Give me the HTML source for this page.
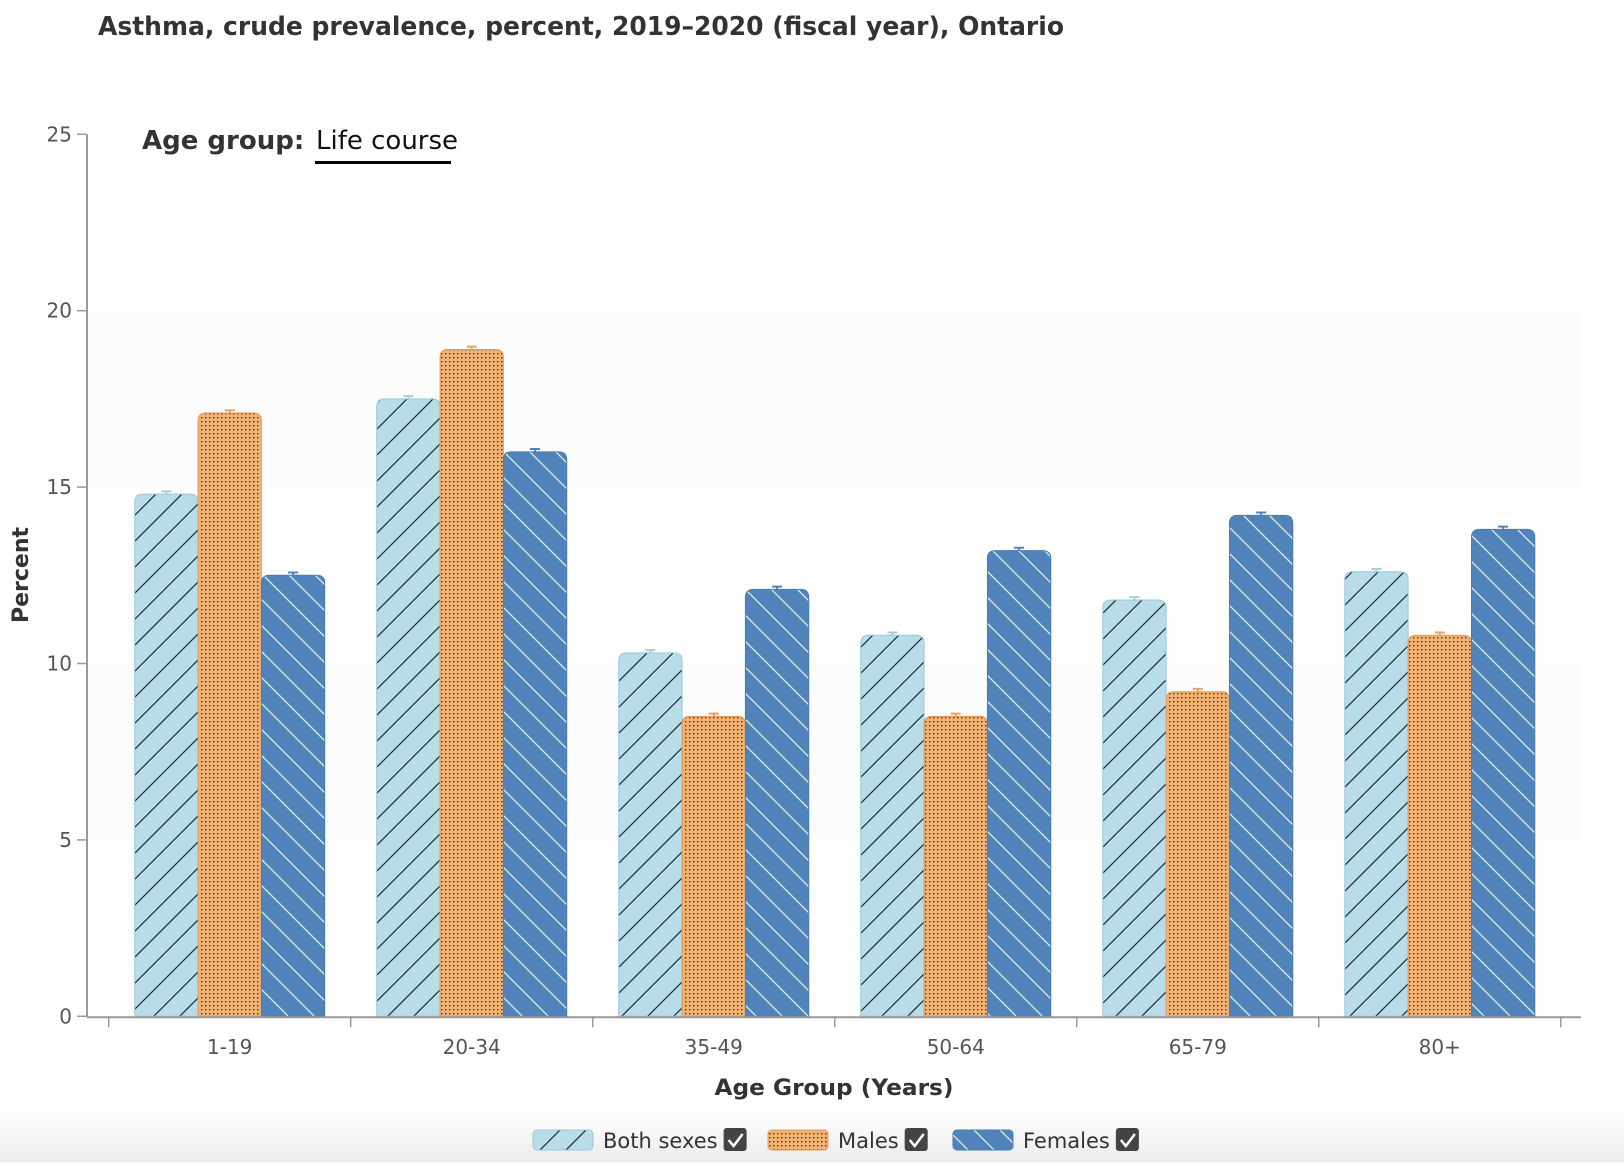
<!DOCTYPE html>
<html><head><meta charset="utf-8">
<style>
body{margin:0;width:1624px;height:1162px;overflow:hidden;background:#fff;font-family:"DejaVu Sans","Liberation Sans",sans-serif;}
svg text{font-family:"DejaVu Sans","Liberation Sans",sans-serif;}
</style></head>
<body>
<svg id="chart" width="1624" height="1162">
<defs>
<linearGradient id="botbg" x1="0" y1="0" x2="0" y2="1"><stop offset="0" stop-color="#fff"/><stop offset="1" stop-color="#ececec"/></linearGradient>
<pattern id="pBoth" patternUnits="userSpaceOnUse" width="26" height="26">
<rect width="26" height="26" fill="#b9dce9"/>
<path d="M0,26 L26,0 M-6,6 L6,-6 M20,32 L32,20" stroke="#1f2a36" stroke-width="1.2"/>
</pattern>
<pattern id="pMale" patternUnits="userSpaceOnUse" width="4" height="4">
<rect width="4" height="4" fill="#f2b272"/>
<rect x="1" y="1" width="1.4" height="1.4" fill="#5a3018"/>
</pattern>
<pattern id="pFem" patternUnits="userSpaceOnUse" width="26" height="26">
<rect width="26" height="26" fill="#5083b9"/>
<path d="M0,0 L26,26 M-6,20 L6,32 M20,-6 L32,6" stroke="#e8f1fa" stroke-width="1.2"/>
</pattern>
</defs>
<rect x="0" y="1110" width="1624" height="52" fill="url(#botbg)"/>
<text x="98" y="35" font-size="26" font-weight="bold" fill="#333" textLength="966" lengthAdjust="spacingAndGlyphs">Asthma, crude prevalence, percent, 2019–2020 (fiscal year), Ontario</text>
<g id="bands"></g>
<g id="yaxis"></g>
<g id="bars"></g>
<g id="xaxis"></g>
<text x="142" y="149" font-size="26" font-weight="bold" fill="#333">Age group:</text>
<text x="316" y="149" font-size="26" fill="#111">Life course</text>
<rect x="315" y="161" width="136" height="3" fill="#000"/>
<text transform="translate(28,575) rotate(-90)" text-anchor="middle" font-size="22" font-weight="bold" fill="#333">Percent</text>
<text x="834" y="1095" text-anchor="middle" font-size="22" font-weight="bold" fill="#333" textLength="239" lengthAdjust="spacingAndGlyphs">Age Group (Years)</text>
<g id="legend"></g>
</svg>
<script>
const categories=["1-19","20-34","35-49","50-64","65-79","80+"];
const bothVals=[14.8,17.5,10.3,10.8,11.8,12.6];
const maleVals=[17.1,18.9,8.5,8.5,9.2,10.8];
const femVals=[12.5,16.0,12.1,13.2,14.2,13.8];
const yTicks=[0,5,10,15,20,25];
const seriesNames=["Both sexes","Males","Females"];

const NS="http://www.w3.org/2000/svg";
function mk(t,a,p){const e=document.createElementNS(NS,t);for(const k in a)e.setAttribute(k,a[k]);p.appendChild(e);return e;}
const y0=1016.3,y1=134.3,x0=108.7,x1=1560.8;
const y=v=>y0-(v/25)*(y0-y1);
const bw=(x1-x0)/categories.length;
const x=i=>x0+i*bw;
const bands=document.getElementById('bands');
for(let i=0;i<yTicks.length-1;i++){
 const r=mk('rect',{x:87,y:y(yTicks[i+1]),width:1494,height:y(yTicks[i])-y(yTicks[i+1]),fill:i%2?'#fcfcfc':'#fff'},bands);
 
 
}
const ya=document.getElementById('yaxis');
const yl=mk('line',{x1:87,y1:y(25),x2:87,y2:y0,stroke:'#999','stroke-width':2},ya);


yTicks.forEach(t=>{
 mk('line',{x1:77,y1:y(t),x2:87,y2:y(t),stroke:'#999','stroke-width':1.5},ya);
 const tx=mk('text',{x:72,y:y(t)+7,'text-anchor':'end','font-size':20,fill:'#555'},ya);
 tx.textContent=t;
 
 
});
const bars=document.getElementById('bars');
const fills=['url(#pBoth)','url(#pMale)','url(#pFem)'];
const strokes=['#9cc8d8','#e09a5a','#4a7db0'];
const errC=['#a6cfdc','#e8a365','#4f83b9'];
const pad=26, barW=(bw-2*pad)/3;
[bothVals,maleVals,femVals].forEach((vals,s)=>{
 vals.forEach((v,i)=>{
  const bx=x(i)+pad+s*barW, by=y(v), h=y0-by, r=8;
  const p=mk('path',{d:`M${bx},${y0} L${bx},${by+r} Q${bx},${by} ${bx+r},${by} L${bx+barW-r},${by} Q${bx+barW},${by} ${bx+barW},${by+r} L${bx+barW},${y0} Z`,fill:fills[s],stroke:strokes[s],'stroke-width':1},bars);
  
  
  const cx=bx+barW/2;
  mk('path',{d:`M${cx-5},${y(v+0.08)} L${cx+5},${y(v+0.08)} M${cx},${y(v+0.08)} L${cx},${by}`,stroke:errC[s],'stroke-width':2,fill:'none'},bars);
 });
});
const xa=document.getElementById('xaxis');
const xl=mk('line',{x1:87,y1:y0+1,x2:1581,y2:y0+1,stroke:'#999','stroke-width':2},xa);


for(let i=0;i<=categories.length;i++) mk('line',{x1:x(i),y1:y0,x2:x(i),y2:y0+11,stroke:'#999','stroke-width':1.5},xa);
categories.forEach((c,i)=>{
 const t=mk('text',{x:x(i)+bw/2,y:1054,'text-anchor':'middle','font-size':20,fill:'#555'},xa);
 t.textContent=c;
 
 
});
const lg=document.getElementById('legend');
const lx=[533,768,953];
seriesNames.forEach((n,s)=>{
 const g=mk('g',{},lg);
 
 
 mk('rect',{x:lx[s],y:1130,width:60,height:20,rx:4,fill:fills[s],stroke:strokes[s]},g);
 const t=mk('text',{x:lx[s]+70,y:1148,'font-size':21,fill:'#333'},g);
 t.textContent=n;
 const tw=t.getComputedTextLength();
 const cb=mk('rect',{x:lx[s]+76+tw,y:1128,width:23,height:23,rx:3,fill:'#444'},g);
 
 
 mk('path',{d:`M${lx[s]+81+tw},${1140} l5,6 l9,-12`,stroke:'#fff','stroke-width':2.5,fill:'none'},g);
});
</script>
</body></html>
